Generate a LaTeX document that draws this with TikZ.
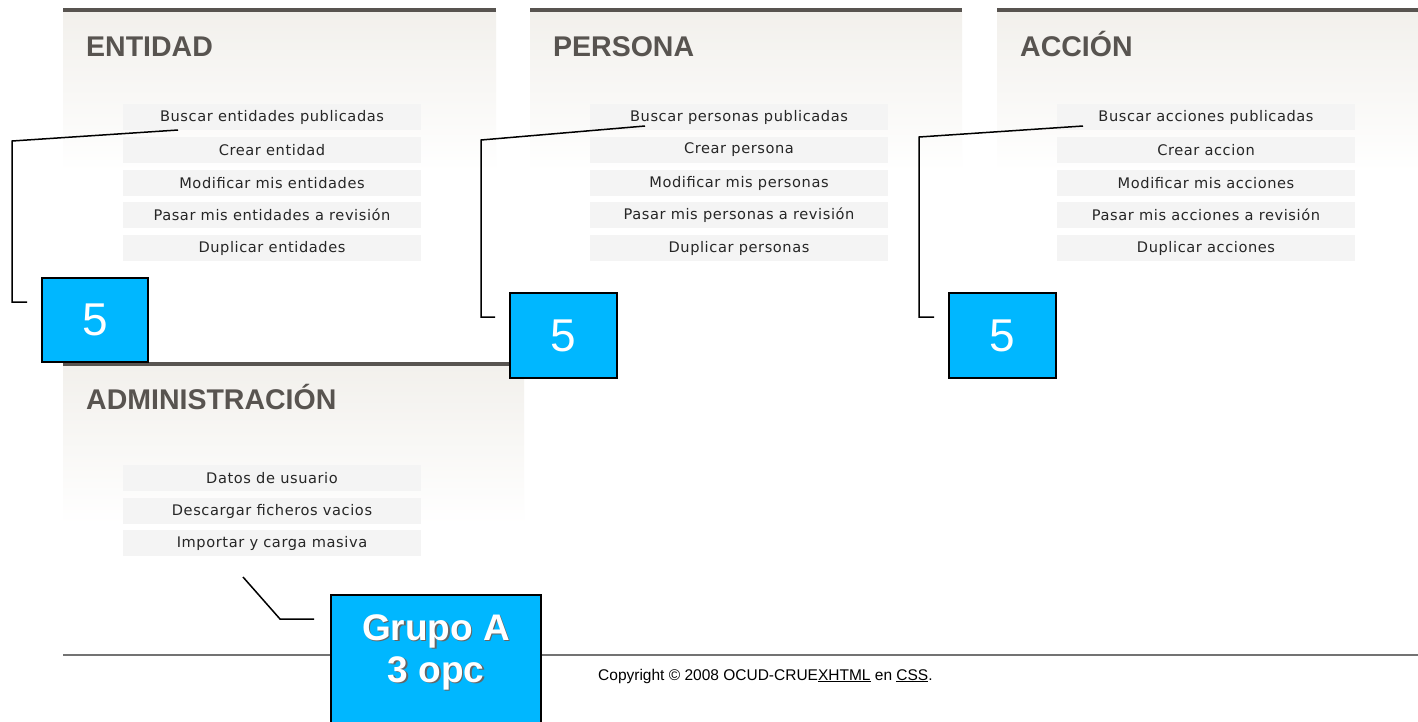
\documentclass[tikz,border=0pt]{standalone}
\usepackage{fontspec}
\setmainfont{Liberation Sans}
\newfontfamily\menufont[LetterSpace=4]{DejaVu Sans}
\usetikzlibrary{calc}
\definecolor{hdr}{HTML}{585450}
\definecolor{beige}{HTML}{F2F0EC}
\definecolor{rowbg}{HTML}{F4F4F4}
\definecolor{callout}{RGB}{0,183,255}
\tikzset{
  panelbar/.style={draw=hdr,line width=4pt},
  hdrtext/.style={anchor=base west,text=hdr,font=\fontsize{28.5}{31}\selectfont\bfseries,inner sep=0},
  menurow/.style={fill=rowbg,minimum width=298pt,minimum height=26pt,inner sep=0,
    font=\menufont\fontsize{14.6}{16}\selectfont,text=black!85},
  numbox/.style={draw=black,line width=1.2pt,fill=callout,inner sep=0,text=white,
    font=\fontsize{46}{50}\selectfont},
  lead/.style={draw=black,line width=1.5pt},
}
\begin{document}
\begin{tikzpicture}[x=1pt,y=-1pt]
\useasboundingbox (0,0) rectangle (1418,721);
\fill[white] (0,0) rectangle (1418,721);
% panel gradients
\shade[top color=beige,bottom color=white] (63,12) rectangle (496,172);
\shade[top color=beige,bottom color=white] (530,12) rectangle (962,172);
\shade[top color=beige,bottom color=white] (997,12) rectangle (1418,172);
\shade[top color=beige,bottom color=white] (63,365) rectangle (524,525);
% bars
\draw[panelbar] (63,10) -- (496,10);
\draw[panelbar] (530,10) -- (962,10);
\draw[panelbar] (997,10) -- (1418,10);
\draw[panelbar] (63,364) -- (524,364);
% headers
\node[hdrtext] (hE) at (86,56) {ENTIDAD};
\node[hdrtext] (hP) at (553,56) {PERSONA};
\node[hdrtext] (hA) at (1020,56) {ACCIÓN};
\node[hdrtext] (hAd) at (86,409) {ADMINISTRACIÓN};
% ENTIDAD menu
\node[menurow] (e1) at (272,117) {Buscar entidades publicadas};
\node[menurow] (e2) at (272,150) {Crear entidad};
\node[menurow] (e3) at (272,183) {Modificar mis entidades};
\node[menurow] (e4) at (272,215) {Pasar mis entidades a revisión};
\node[menurow] (e5) at (272,248) {Duplicar entidades};
% PERSONA menu
\node[menurow] (p1) at (739,117) {Buscar personas publicadas};
\node[menurow] (p2) at (739,150) {Crear persona};
\node[menurow] (p3) at (739,183) {Modificar mis personas};
\node[menurow] (p4) at (739,215) {Pasar mis personas a revisión};
\node[menurow] (p5) at (739,248) {Duplicar personas};
% ACCION menu
\node[menurow] (a1) at (1206,117) {Buscar acciones publicadas};
\node[menurow] (a2) at (1206,150) {Crear accion};
\node[menurow] (a3) at (1206,183) {Modificar mis acciones};
\node[menurow] (a4) at (1206,215) {Pasar mis acciones a revisión};
\node[menurow] (a5) at (1206,248) {Duplicar acciones};
% ADMIN menu
\node[menurow] (d1) at (272,478) {Datos de usuario};
\node[menurow] (d2) at (272,511) {Descargar ficheros vacios};
\node[menurow] (d3) at (272,543) {Importar y carga masiva};
% footer
\draw[draw=black!55,line width=1.3pt] (63,655) -- (1418,655);
\node[anchor=west,inner sep=0,font=\fontsize{15.5}{17}\selectfont] (copy) at (598,676)
  {Copyright © 2008 OCUD-CRUE\underline{XHTML} en \underline{CSS}.};
% callout boxes
\node[numbox,minimum width=106pt,minimum height=84pt] (b1) at (95,320) {5};
\node[numbox,minimum width=107pt,minimum height=85pt] (b2) at (563.5,335.5) {5};
\node[numbox,minimum width=107pt,minimum height=85pt] (b3) at (1002.5,335.5) {5};
\node[draw=black,line width=1.2pt,fill=callout,minimum width=210pt,minimum height=140pt,inner sep=0] (g) at (436,665) {};
\node[text=black!60,font=\fontsize{37}{42}\selectfont\bfseries,align=center] at (437.5,653.5) {Grupo A\\3 opc};
\node[text=white,font=\fontsize{37}{42}\selectfont\bfseries,align=center] (gt) at (436,652) {Grupo A\\3 opc};
% connector points
\coordinate (s1) at (178,130);
\coordinate (t1) at (27,302);
\coordinate (s2) at (645,126);
\coordinate (t2) at (495,317);
\coordinate (s3) at (1083,126);
\coordinate (t3) at (934,317);
\coordinate (s4) at (243,577);
\coordinate (t4) at (314,619);
\draw[lead] (s1) -- (12,141) -- (12,302) -- (t1);
\draw[lead] (s2) -- (481,140) -- (481,317) -- (t2);
\draw[lead] (s3) -- (919,137) -- (919,317) -- (t3);
\draw[lead] (s4) -- (280,619) -- (t4);
\end{tikzpicture}
\end{document}
